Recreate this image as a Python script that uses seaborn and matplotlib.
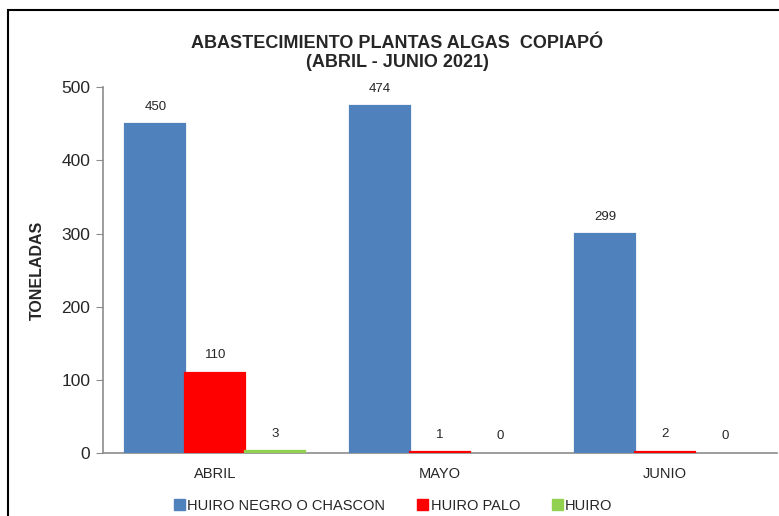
import pandas as pd
import matplotlib.pyplot as plt
import seaborn as sns
from matplotlib.patches import Rectangle

# Data
meses = ['ABRIL', 'MAYO', 'JUNIO']
huiro_negro = [450, 474, 299]
huiro_palo = [110, 1, 2]
huiro = [3, 0, 0]
especies = ['HUIRO NEGRO O CHASCON', 'HUIRO PALO', 'HUIRO']
colores = ['#4F81BD', '#FF0000', '#92D050']

df = pd.DataFrame({
    'Mes': meses * 3,
    'Especie': [especies[0]] * 3 + [especies[1]] * 3 + [especies[2]] * 3,
    'Toneladas': huiro_negro + huiro_palo + huiro,
})

sns.set_style("white")
plt.rcParams['font.family'] = ['Liberation Sans', 'DejaVu Sans']

fig = plt.figure(figsize=(7.79, 5.16), dpi=100)
ax = fig.add_axes([0.132, 0.122, 0.866, 0.709])

sns.barplot(data=df, x='Mes', y='Toneladas', hue='Especie', order=meses,
            hue_order=especies, palette=colores, width=0.8, gap=0,
            saturation=1, linewidth=0, ax=ax, legend=False)

for cont in ax.containers:
    # thin edge in the bar's own colour so the tiny values still show
    for bar in cont:
        if bar.get_height() > 0:
            bar.set_edgecolor(bar.get_facecolor())
            bar.set_linewidth(1.6)
            bar.set_zorder(3)
    ax.bar_label(cont, labels=[f'{int(v)}' for v in cont.datavalues],
                 padding=8, fontsize=9.5)

ax.set_xlim(-0.5, 2.5)
ax.set_ylim(0, 500)
ax.set_yticks([0, 100, 200, 300, 400, 500])
ax.set_xlabel('')
ax.set_ylabel('TONELADAS', fontsize=11.5, fontweight='bold', labelpad=12)
ax.tick_params(axis='y', labelsize=12.5, length=5, color='#8c8c8c',
               direction='out', left=True, pad=4)
ax.tick_params(axis='x', labelsize=10.5, length=0, pad=10)
for side in ['top', 'right']:
    ax.spines[side].set_visible(False)
for side in ['left', 'bottom']:
    ax.spines[side].set_color('#8c8c8c')
    ax.spines[side].set_linewidth(1.2)

fig.text(0.51, 0.897, 'ABASTECIMIENTO PLANTAS ALGAS  COPIAPÓ\n(ABRIL - JUNIO 2021)',
         ha='center', va='center', fontsize=13, fontweight='bold',
         linespacing=1.1)

# Legend at the bottom
handles = [plt.Rectangle((0, 0), 1, 1, color=c) for c in colores]
fig.legend(handles, especies, loc='center', bbox_to_anchor=(0.505, 0.02),
           ncol=3, frameon=False, fontsize=10.5, handlelength=0.75,
           handleheight=0.75, handletextpad=0.15, columnspacing=2.2,
           borderpad=0)

# Outer frame of the chart area
fig.patches.append(Rectangle((0.0105, -0.1), 1.2, 1.081, transform=fig.transFigure,
                             fill=False, edgecolor='black', linewidth=1.5))

fig.savefig('out.png', dpi=100)
